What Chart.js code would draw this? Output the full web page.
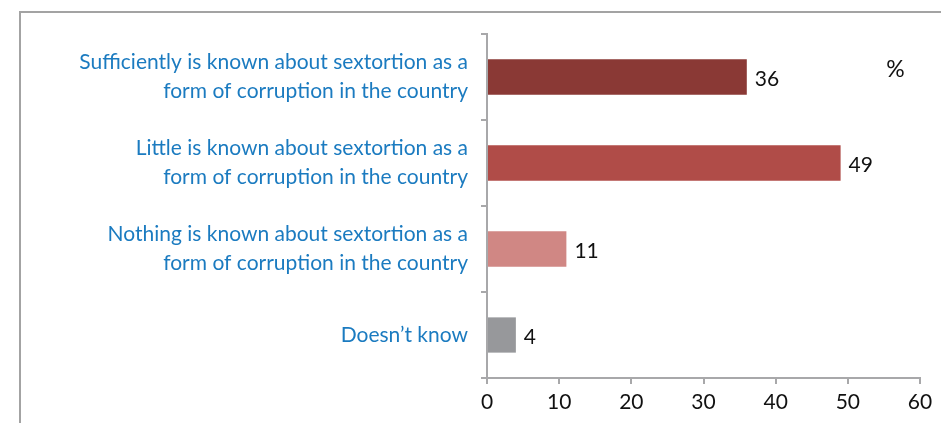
<!DOCTYPE html>
<html>
<head>
<meta charset="utf-8">
<script src="https://cdn.jsdelivr.net/npm/chart.js@4/dist/chart.umd.min.js"></script>
<style>
  html, body { margin: 0; padding: 0; background: #fff; }
  #wrap { position: relative; width: 941px; height: 423px; }
</style>
</head>
<body>
<div id="wrap"><canvas id="c" width="941" height="423"></canvas></div>
<script>
// Survey answers (multi-line category labels)
const categories = [
  ["Sufficiently is known about sextortion as a", "form of corruption in the country"],
  ["Little is known about sextortion as a", "form of corruption in the country"],
  ["Nothing is known about sextortion as a", "form of corruption in the country"],
  "Doesn\u2019t know"
];
const shares = [36, 49, 11, 4];
const barColors = ["#8A3935", "#B04C48", "#D08784", "#97989B"];
const xTicks = [0, 10, 20, 30, 40, 50, 60];
const unitLabel = "%";

const FONT = "Lato, 'Open Sans', sans-serif";
const AXIS_GRAY = "#A8A8AA";

// Outer frame, value labels beside the bars and the unit mark
const decorations = {
  id: "decorations",
  beforeDraw(chart) {
    const ctx = chart.ctx;
    ctx.save();
    ctx.strokeStyle = "#A3A3A3";
    ctx.lineWidth = 2;
    ctx.beginPath();
    ctx.moveTo(20, chart.height);
    ctx.lineTo(20, 12);
    ctx.lineTo(chart.width, 12);
    ctx.stroke();
    ctx.restore();
  },
  afterDatasetsDraw(chart) {
    const ctx = chart.ctx;
    const meta = chart.getDatasetMeta(0);
    ctx.save();
    ctx.fillStyle = "#111";
    ctx.font = "21px " + FONT;
    ctx.textAlign = "left";
    ctx.textBaseline = "middle";
    meta.data.forEach((bar, i) => {
      ctx.fillText(String(shares[i]), bar.x + 8, bar.y + 2);
    });
    const xs = chart.scales.x;
    ctx.font = "23px " + FONT;
    ctx.textAlign = "center";
    ctx.fillText(unitLabel, xs.getPixelForValue(56.6), chart.chartArea.top + 36);
    ctx.restore();
  }
};

new Chart(document.getElementById("c"), {
  type: "bar",
  data: {
    labels: categories,
    datasets: [{
      data: shares,
      backgroundColor: barColors,
      borderWidth: 0,
      barPercentage: 0.41,
      categoryPercentage: 1
    }]
  },
  options: {
    indexAxis: "y",
    responsive: false,
    animation: false,
    devicePixelRatio: 1,
    layout: { padding: { top: 34, right: 21, left: 0, bottom: 0 } },
    plugins: { legend: { display: false }, tooltip: { enabled: false } },
    scales: {
      x: {
        min: 0, max: 60,
        afterBuildTicks(scale) { scale.ticks = xTicks.map(v => ({ value: v })); },
        afterFit(scale) { scale.height = 45; },
        border: { color: AXIS_GRAY, width: 2 },
        grid: { drawOnChartArea: false, color: AXIS_GRAY, lineWidth: 2, tickLength: 6 },
        ticks: { color: "#111", padding: 6, font: { family: FONT, size: 21 } }
      },
      y: {
        afterFit(scale) { scale.width = 487; },
        border: { color: AXIS_GRAY, width: 2 },
        grid: { offset: true, drawOnChartArea: false, color: AXIS_GRAY, lineWidth: 2, tickLength: 6 },
        ticks: { color: "#1B7BC0", padding: 13, font: { family: FONT, size: 21, lineHeight: 1.38 } }
      }
    }
  },
  plugins: [decorations]
});
</script>
</body>
</html>
